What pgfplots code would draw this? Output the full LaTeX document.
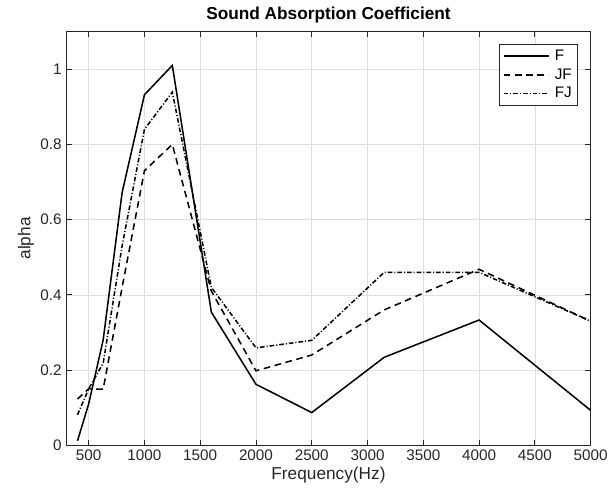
\documentclass[border=0pt]{standalone}
\usepackage{pgfplots}
\pgfplotsset{compat=1.18}
\usepackage{fontspec}
\setmainfont{Liberation Sans}
\definecolor{axgray}{gray}{0.15}
\definecolor{gridgray}{gray}{0.87}
\begin{document}
\begin{tikzpicture}
\begin{axis}[
  scale only axis,
  width=395pt, height=311.7pt,
  xmin=300, xmax=5000, ymin=0, ymax=1.1,
  xtick={500,1000,...,5000},
  ytick={0,0.2,0.4,0.6,0.8,1},
  scaled ticks=false,
  /pgf/number format/1000 sep={},
  /pgf/number format/assume math mode=true,
  tick label style={font=\fontsize{11.5}{13}\selectfont, color=axgray},
  grid=major,
  major grid style={color=gridgray, line width=0.5pt},
  axis line style={color=axgray, line width=0.6pt},
  tick style={color=axgray, line width=0.6pt},
  major tick length=4pt,
  tick align=inside,
  xtick pos=both, ytick pos=both,
  title={Sound Absorption Coefficient},
  title style={font=\bfseries\fontsize{13}{15}\selectfont, yshift=-3pt},
  xlabel={Frequency(Hz)},
  ylabel={alpha},
  label style={font=\fontsize{13}{15}\selectfont, color=axgray},
  xlabel style={yshift=2pt},
  ylabel style={yshift=-2pt},
  legend style={at={(1,1)}, anchor=north east, xshift=-9.5pt, yshift=-9.5pt,
    font=\fontsize{11.5}{13}\selectfont, draw=axgray,
    row sep=0.8pt, inner xsep=2.5pt, inner ysep=2pt,
    /tikz/every odd column/.append style={column sep=2pt}},
  legend cell align=left,
  legend image code/.code={\draw[#1, line width=1.15pt] (0pt,0pt) -- (34pt,0pt);},
]
\addplot[black, line width=1.15pt, solid] coordinates {
(400,0.012) (500,0.11) (630,0.28) (800,0.672) (1000,0.932) (1250,1.01)
(1600,0.354) (2000,0.162) (2500,0.087) (3150,0.234) (4000,0.333) (5000,0.093)};
\addlegendentry{F}
\addplot[black, line width=1.15pt, dash pattern=on 5pt off 3.5pt] coordinates {
(400,0.123) (500,0.15) (630,0.149) (800,0.42) (1000,0.73) (1250,0.80)
(1600,0.41) (2000,0.198) (2500,0.24) (3150,0.36) (4000,0.468) (5000,0.33)};
\addlegendentry{JF}
\addplot[black, line width=1.15pt, dash pattern=on 3.5pt off 1.5pt on 0.8pt off 1.5pt] coordinates {
(400,0.081) (500,0.15) (630,0.218) (800,0.53) (1000,0.84) (1250,0.939)
(1600,0.42) (2000,0.259) (2500,0.279) (3150,0.46) (4000,0.46) (5000,0.33)};
\addlegendentry{FJ}
\coordinate (bl) at (rel axis cs:0,0);
\coordinate (tr) at (rel axis cs:1,1);
\end{axis}
\path (bl) ++(-50pt,-38.8pt) coordinate (BL);
\path (tr) ++(14pt,23.8pt) coordinate (TR);
\useasboundingbox (BL) rectangle (TR);
\end{tikzpicture}
\end{document}
